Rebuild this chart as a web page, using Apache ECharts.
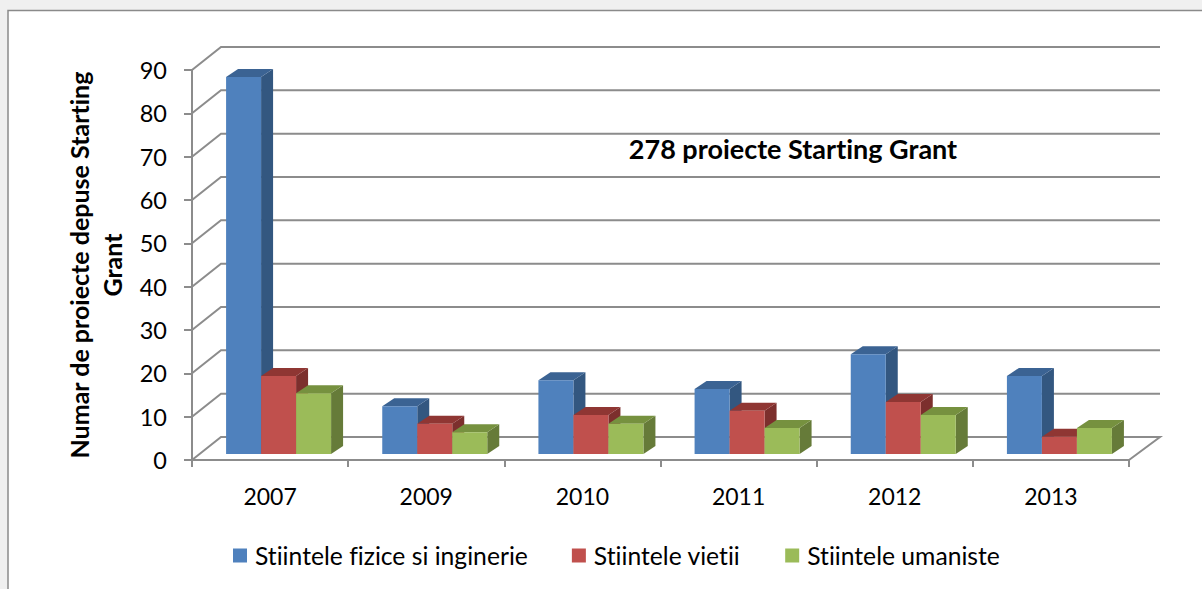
<!DOCTYPE html>
<html>
<head>
<meta charset="utf-8">
<style>
  html, body { margin: 0; padding: 0; background: #f0f0f0; }
  #chart { width: 1202px; height: 589px; }
  #chart text { font-variant-ligatures: none; }
</style>
<script src="https://cdn.jsdelivr.net/npm/echarts@6/dist/echarts.min.js"></script>
</head>
<body>
<div id="chart"></div>
<script>
var categories = ['2007', '2009', '2010', '2011', '2012', '2013'];
var fizice = [87, 11, 17, 15, 23, 18];
var vietii = [18, 7, 9, 10, 12, 4];
var umaniste = [14, 5, 7, 6, 9, 6];
var yTicks = [0, 10, 20, 30, 40, 50, 60, 70, 80, 90];

var FONT = 'Lato';
var GRID_COLOR = '#8c8c8c';
// offset of the back wall against the front plane
var WALL_DX = 29, WALL_DY = -23;

// gridlines on the left side and the back wall
function renderWall(params, api) {
  var cs = params.coordSys;
  var y = api.coord([0, api.value(0)])[1];
  var left = cs.x, right = cs.x + cs.width;
  var pts = [[left, y], [left + WALL_DX, y + WALL_DY], [right + WALL_DX + 2, y + WALL_DY]];
  if (api.value(0) === 0) pts.push([right, y]);
  return {
    type: 'polyline',
    shape: { points: pts },
    style: { fill: null, stroke: GRID_COLOR, lineWidth: 2 }
  };
}

// 3d column: front, side and top face
function makeBar(idx, front, side, top) {
  return function (params, api) {
    var barW = 35, depthX = 12, depthY = -8, floorY = -6, shift = 8.5;
    var catIdx = api.value(0);
    var p = api.coord([catIdx, api.value(1)]);
    var base = api.coord([catIdx, 0]);
    var x0 = p[0] + shift - 1.5 * barW + idx * barW;
    var x1 = x0 + barW;
    var yTop = p[1] + floorY;
    var yBase = base[1] + floorY;
    return {
      type: 'group',
      children: [
        { type: 'polygon', shape: { points: [[x1, yTop], [x1 + depthX, yTop + depthY], [x1 + depthX, yBase + depthY], [x1, yBase]] }, style: { fill: side } },
        { type: 'polygon', shape: { points: [[x0, yTop], [x0 + depthX, yTop + depthY], [x1 + depthX, yTop + depthY], [x1, yTop]] }, style: { fill: top } },
        { type: 'rect', shape: { x: x0, y: yTop, width: barW, height: yBase - yTop }, style: { fill: front } }
      ]
    };
  };
}

function barSeries(name, values, idx, front, side, top) {
  return {
    name: name,
    type: 'custom',
    clip: false,
    z: 3 + idx,
    itemStyle: { color: front },
    renderItem: makeBar(idx, front, side, top),
    encode: { x: 0, y: 1 },
    data: values.map(function (v, i) { return [i, v]; })
  };
}

var chart = echarts.init(document.getElementById('chart'), null, { renderer: 'svg' });
chart.setOption({
  animation: false,
  textStyle: { fontFamily: FONT },
  graphic: [{
    type: 'rect',
    z: -10,
    shape: { x: 8, y: 10.5, width: 1300, height: 700 },
    style: { fill: '#ffffff', stroke: '#8a8a8a', lineWidth: 1.5 }
  }],
  title: {
    text: '278 proiecte Starting Grant',
    left: 788,
    top: 130,
    textAlign: 'center',
    textStyle: { fontFamily: FONT, fontWeight: 'bold', fontSize: 27, color: '#000' }
  },
  legend: {
    left: 228,
    top: 538,
    itemWidth: 14,
    itemHeight: 14,
    itemGap: 44,
    icon: 'rect',
    textStyle: { fontFamily: FONT, fontSize: 24.7, color: '#000', padding: [0, 0, 0, 3] },
    data: ['Stiintele fizice si inginerie', 'Stiintele vietii', 'Stiintele umaniste']
  },
  grid: { left: 192, right: 73, top: 70, height: 390 },
  xAxis: {
    type: 'category',
    data: categories,
    axisLine: { lineStyle: { color: GRID_COLOR, width: 2 } },
    axisTick: { show: true, length: 7, lineStyle: { color: GRID_COLOR, width: 2 } },
    axisLabel: { fontFamily: FONT, fontSize: 23, color: '#000', margin: 24 }
  },
  yAxis: {
    type: 'value',
    min: 0,
    max: 90,
    interval: 10,
    name: 'Numar de proiecte depuse Starting\nGrant',
    nameLocation: 'middle',
    nameRotate: 90,
    nameGap: 58,
    nameTextStyle: { fontFamily: FONT, fontWeight: 'bold', fontSize: 25, color: '#000', lineHeight: 33 },
    axisLine: { show: true, lineStyle: { color: GRID_COLOR, width: 2 } },
    axisTick: { show: true, length: 8, lineStyle: { color: GRID_COLOR, width: 2 } },
    splitLine: { show: false },
    axisLabel: { fontFamily: FONT, fontSize: 23.5, color: '#000', margin: 25 }
  },
  series: [
    {
      type: 'custom',
      clip: false,
      silent: true,
      z: 1,
      renderItem: renderWall,
      encode: { y: 0 },
      data: yTicks.map(function (v) { return [v]; })
    },
    barSeries('Stiintele fizice si inginerie', fizice, 0, '#4f81bd', '#335780', '#3b6393'),
    barSeries('Stiintele vietii', vietii, 1, '#c0504d', '#7c2f2d', '#8f3633'),
    barSeries('Stiintele umaniste', umaniste, 2, '#9bbb59', '#667b39', '#76913f')
  ]
});
</script>
</body>
</html>
